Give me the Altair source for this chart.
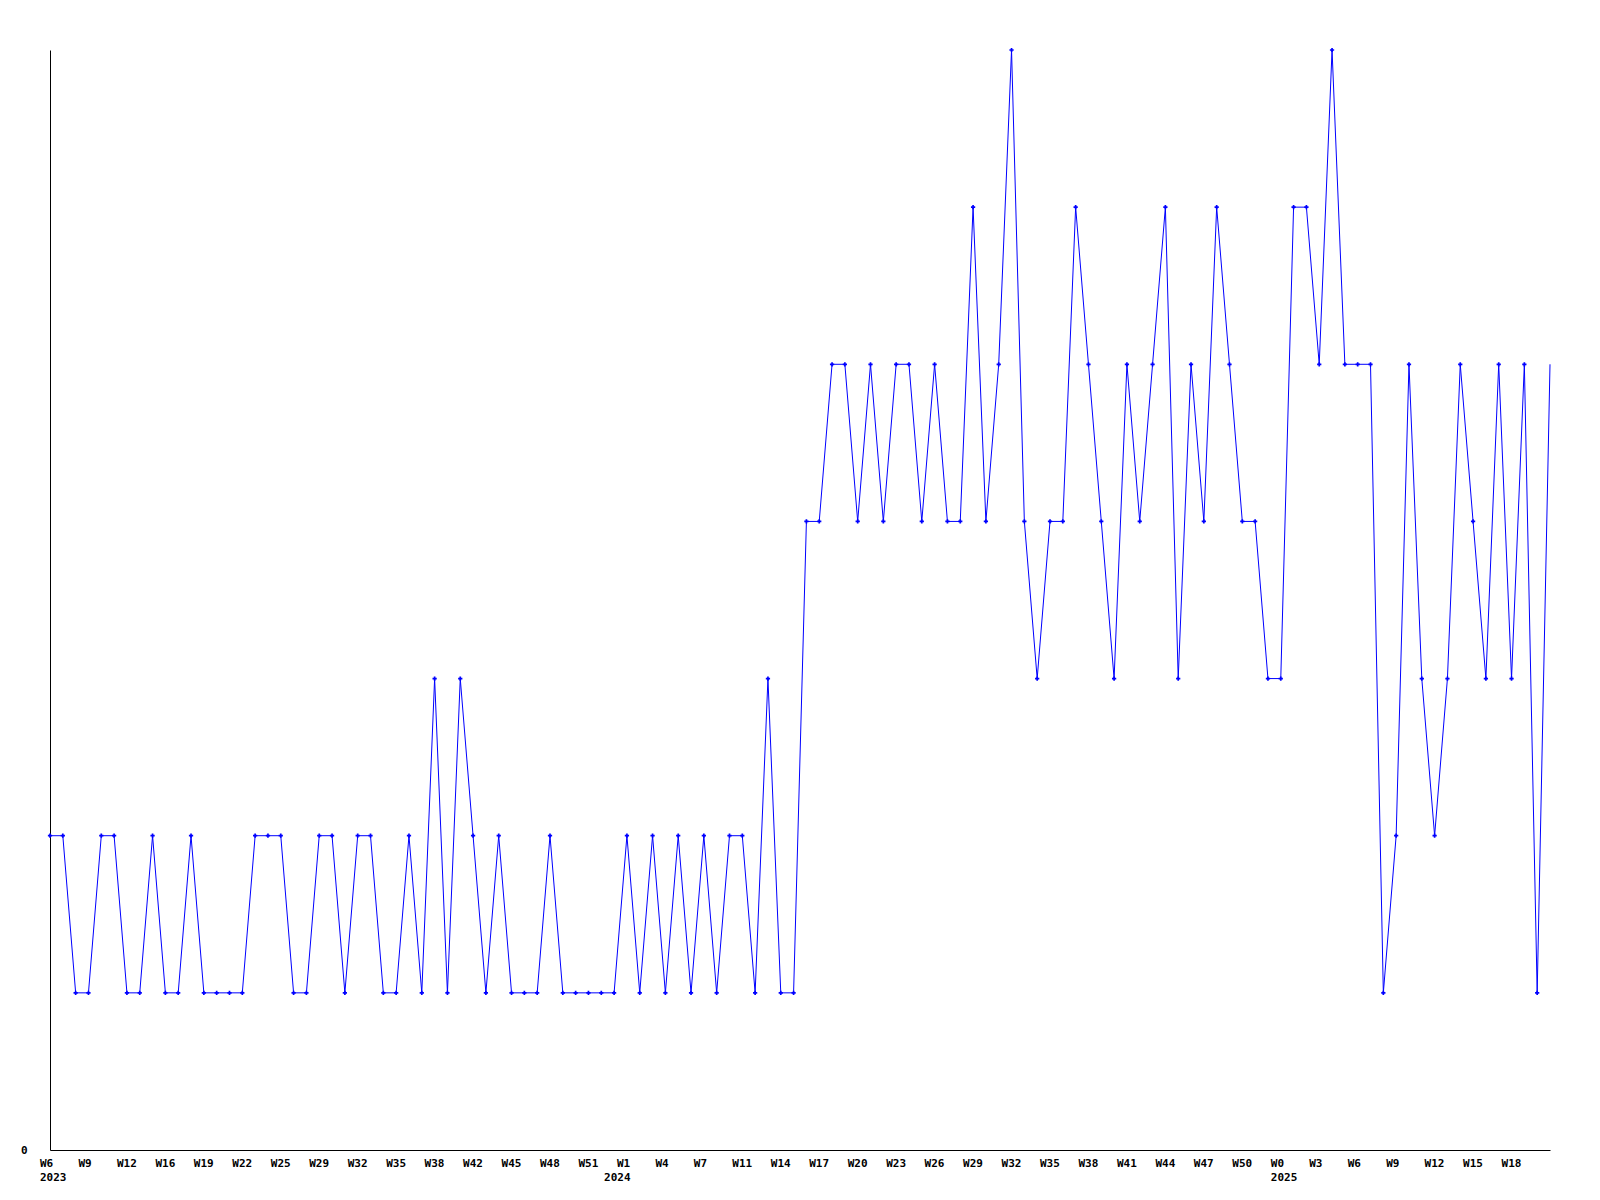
import altair as alt
import pandas as pd

# Weekly values (118 points)
values = [
    2, 2, 1, 1, 2, 2, 1, 1, 2, 1,
    1, 2, 1, 1, 1, 1, 2, 2, 2, 1,
    1, 2, 2, 1, 2, 2, 1, 1, 2, 1,
    3, 1, 3, 2, 1, 2, 1, 1, 1, 2,
    1, 1, 1, 1, 1, 2, 1, 2, 1, 2,
    1, 2, 1, 2, 2, 1, 3, 1, 1,
    4, 4, 5, 5, 4, 5, 4, 5, 5, 4,
    5, 4, 4, 6, 4, 5, 7, 4, 3, 4,
    4, 6, 5, 4, 3, 5, 4, 5, 6, 3,
    5, 4, 6, 5, 4, 4, 3, 3, 6, 6,
    5, 7, 5, 5, 5, 1, 2, 5, 3, 2,
    3, 5, 4, 3, 5, 3, 5, 1, 5,
]

# Week tick labels, one every third point
week_labels = [
    "W6", "W9", "W12", "W16", "W19", "W22", "W25", "W29", "W32", "W35",
    "W38", "W42", "W45", "W48", "W51",
    "W1", "W4", "W7", "W11", "W14", "W17", "W20", "W23", "W26", "W29",
    "W32", "W35", "W38", "W41", "W44", "W47", "W50",
    "W0", "W3", "W6", "W9", "W12", "W15", "W18",
]
# Year labels: point index -> year
year_positions = [0, 44, 96]
year_labels = ["2023", "2024", "2025"]

df = pd.DataFrame({"i": list(range(len(values))), "v": values})

tick_vals = [k * 3 for k in range(len(week_labels))]
label_map = {}
for k, w in enumerate(week_labels):
    label_map[tick_vals[k]] = [w]
for p, y in zip(year_positions, year_labels):
    if p in label_map:
        label_map[p] = label_map[p] + [y]
    else:
        label_map[p] = [" ", y]
all_ticks = sorted(label_map.keys())


def js_arr(lst):
    return "[" + ",".join("'" + s + "'" for s in lst) + "]"


label_expr = (
    "[" + ",".join(js_arr(label_map[t]) for t in all_ticks) + "]"
    + "[indexof([" + ",".join(str(t) for t in all_ticks) + "], datum.value)]"
)

font = "DejaVu Sans Mono"
blue = "#0000FF"

x = alt.X(
    "i:Q",
    scale=alt.Scale(domain=[0, len(values) - 1], nice=False, zero=False),
    axis=alt.Axis(
        values=all_ticks,
        labelExpr=label_expr,
        title=None,
        grid=False,
        ticks=False,
        tickSize=0,
        domainColor="black",
        domainWidth=1,
        labelFont=font,
        labelFontSize=11,
        labelFontWeight="bold",
        labelColor="black",
        labelAlign="left",
        labelBaseline="top",
        labelOffset=-10.5,
        labelPadding=7,
        labelLineHeight=14,
        labelOverlap=False,
        labelFlush=False,
        labelBound=False,
    ),
)
y = alt.Y(
    "v:Q",
    scale=alt.Scale(domain=[0, 7], nice=False),
    axis=alt.Axis(
        values=[0],
        title=None,
        grid=False,
        ticks=False,
        tickSize=0,
        domainColor="black",
        domainWidth=1,
        labelFont=font,
        labelFontSize=11,
        labelFontWeight="bold",
        labelColor="black",
        labelPadding=23,
        labelBaseline="middle",
    ),
)

line = alt.Chart(df).mark_line(color=blue, strokeWidth=1).encode(x=x, y=y)
pts = (
    alt.Chart(df)
    .transform_filter(f"datum.i < {len(values) - 1}")
    .mark_point(shape="cross", filled=True, color=blue, size=18, opacity=1)
    .encode(x=x, y=y)
)

chart = (
    alt.layer(line, pts)
    .properties(
        width=1500,
        height=1100,
        autosize=alt.AutoSizeParams(type="none"),
        padding={"left": 42, "top": 42, "right": 30, "bottom": 40},
        background="white",
    )
    .configure_view(strokeWidth=0)
)

chart.save("out.html", embed_options={"renderer": "svg", "actions": False})
